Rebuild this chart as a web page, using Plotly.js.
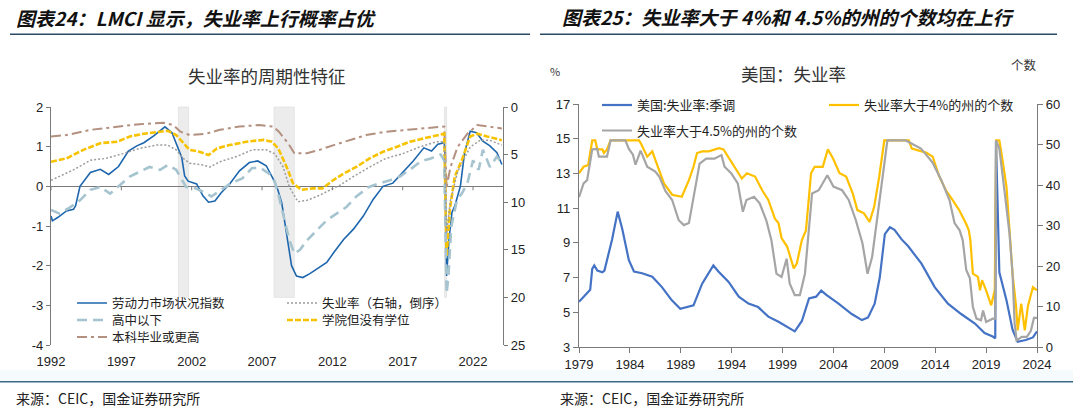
<!DOCTYPE html>
<html><head><meta charset="utf-8">
<script src="https://cdn.plot.ly/plotly-3.0.1.min.js"></script>
<style>
html,body{margin:0;padding:0;background:#fff;}
#wrap{display:flex;width:1080px;height:412px;overflow:hidden;}
#left,#right{width:540px;height:412px;}
</style></head><body>
<div id="wrap"><div id="left"></div><div id="right"></div></div>
<script>
const CJK = '"Noto Sans CJK SC", "Noto Sans", sans-serif';
const NUM = '"Liberation Sans", Arial, sans-serif';

// ---------------- Left chart data ----------------
const leftHeader = '图表24：LMCI 显示，失业率上行概率占优';
const leftTitle = '失业率的周期性特征';
const sourceText = '来源：CEIC，国金证券研究所';
const nameLMCI = '劳动力市场状况指数';
const nameHS = '高中以下';
const nameBA = '本科毕业或更高';
const nameUR = '失业率（右轴，倒序）';
const nameCL = '学院但没有学位';

const lmciYears = [1992.0,1992.1,1992.5,1993.1,1993.6,1993.75,1994.06,1994.8,1995.5,1996.1,1996.8,1997.5,1998.1,1998.6,1999.3,1999.75,2000.1,2000.6,2000.9,2001.3,2001.5,2001.75,2002.35,2002.8,2003.2,2003.65,2004.1,2004.7,2005.4,2006.1,2006.7,2007.3,2007.8,2008.1,2008.4,2008.75,2009.1,2009.45,2009.9,2010.4,2010.9,2011.6,2012.1,2012.8,2013.5,2014.2,2014.9,2015.6,2016.3,2017.0,2017.75,2018.5,2019.05,2019.5,2019.95,2020.0,2020.12,2020.3,2020.5,2020.7,2021.1,2021.4,2021.8,2022.25,2022.7,2023.2,2023.7,2024.05];
const lmciVals  = [-0.75,-0.87,-0.78,-0.62,-0.58,-0.49,0.0,0.35,0.43,0.30,0.50,0.89,1.02,1.10,1.27,1.39,1.50,1.35,1.10,0.72,0.26,0.13,0.06,-0.24,-0.40,-0.37,-0.16,0.06,0.39,0.60,0.64,0.52,0.18,-0.06,-0.41,-1.17,-2.0,-2.26,-2.30,-2.20,-2.09,-1.92,-1.67,-1.34,-1.08,-0.75,-0.33,0.0,0.08,0.35,0.64,0.97,0.89,1.06,1.10,0.90,-2.26,-1.30,-0.66,-0.50,0.0,0.85,1.39,1.35,1.14,1.02,0.85,0.55];

const hsYears = [1992.0,1992.6,1993.3,1994.06,1994.8,1995.5,1996.2,1996.9,1997.6,1998.3,1999.0,1999.75,2000.3,2000.9,2001.3,2001.6,2002.2,2002.8,2003.4,2004.1,2004.8,2005.6,2006.3,2006.9,2007.5,2007.9,2008.2,2008.6,2008.95,2009.3,2009.7,2010.2,2010.9,2011.6,2012.3,2013.0,2013.7,2014.6,2015.4,2016.1,2016.8,2017.5,2018.3,2019.0,2019.7,2019.95,2020.12,2020.25,2020.45,2020.85,2021.2,2021.6,2022.0,2022.4,2022.7,2023.2,2023.7,2024.05];
const hsVals  = [10.8,11.2,10.6,9.8,8.7,8.4,9.1,8.2,7.3,6.8,6.3,6.6,6.1,6.6,7.7,8.4,8.5,8.9,9.4,8.7,8.0,7.5,6.4,6.4,7.0,7.8,9.4,11.9,14.0,15.4,15.0,14.0,12.9,11.9,11.2,10.5,9.4,8.4,8.0,7.7,7.3,6.6,5.7,5.4,5.0,5.6,19.6,17.8,12.6,9.8,9.1,8.0,5.6,6.6,4.5,6.3,5.2,5.9];

const clYears = [1992.0,1993.1,1994.3,1995.5,1996.7,1997.6,1998.6,1999.5,2000.3,2000.9,2001.4,2001.85,2002.55,2003.2,2003.8,2004.7,2005.9,2007.1,2007.7,2008.15,2008.75,2009.2,2009.8,2010.6,2011.3,2012.1,2012.8,2013.7,2014.65,2015.6,2016.55,2017.5,2018.5,2019.4,2019.95,2020.12,2020.35,2020.7,2021.2,2021.8,2022.3,2023.0,2024.05];
const clVals  = [5.75,5.4,4.5,3.8,3.65,3.1,2.8,2.6,2.5,2.95,3.8,4.5,4.7,5.05,4.35,4.0,3.65,3.45,3.65,4.35,6.3,8.0,8.7,8.55,8.55,7.65,7.0,6.3,5.4,4.7,4.2,3.65,3.3,2.95,2.8,15.7,10.8,7.3,5.6,3.1,2.8,3.1,3.5];

const baYears = [1992.0,1993.1,1994.8,1996.7,1998.3,2000.0,2000.7,2001.2,2001.85,2003.05,2004.0,2005.4,2006.8,2007.8,2008.2,2008.85,2009.3,2010.2,2011.1,2012.1,2013.25,2014.4,2015.8,2017.3,2018.7,2019.95,2020.12,2020.4,2020.9,2021.6,2022.3,2023.2,2024.05];
const baVals  = [3.1,2.95,2.4,2.05,1.8,1.65,1.9,2.6,2.95,2.8,2.4,2.05,1.9,2.05,2.6,3.8,4.85,4.85,4.5,4.0,3.45,2.95,2.6,2.4,2.25,2.05,8.4,6.3,4.2,2.8,1.9,2.05,2.25];

const urYears = [1992.0,1992.6,1993.6,1994.8,1995.9,1997.1,1998.3,1999.5,2000.3,2000.9,2001.4,2001.85,2002.8,2003.3,2004.0,2005.2,2006.3,2007.3,2007.9,2008.5,2008.95,2009.55,2010.2,2010.9,2011.6,2012.55,2013.5,2014.65,2015.8,2017.0,2018.2,2019.4,2019.95,2020.12,2020.4,2020.9,2021.8,2022.5,2023.2,2024.05];
const urVals  = [7.7,7.3,6.6,5.6,5.4,4.9,4.35,4.0,4.0,4.5,5.4,5.9,6.1,6.3,5.75,5.2,4.5,4.5,4.9,6.3,8.4,9.95,9.8,9.4,8.9,8.2,7.3,6.3,5.4,4.9,4.2,3.65,3.65,13.3,9.8,6.8,4.2,3.5,3.5,4.0];

const recStart = [2001.05, 2007.85, 2019.97];
const recEnd   = [2001.78, 2009.30, 2020.12];

const leftXTicks = [1992,1997,2002,2007,2012,2017,2022];
const leftXLabels = ['1992','1997','2002','2007','2012','2017','2022'];
const leftYTicks = [-4,-3,-2,-1,0,1,2];
const leftYLabels = ['-4','-3','-2','-1','0','1','2'];
const leftY2Ticks = [0,5,10,15,20,25];
const leftY2Labels = ['0','5','10','15','20','25'];

// ---------------- Right chart data ----------------
const rightHeader = '图表25：失业率大于 4%和 4.5%的州的个数均在上行';
const rightTitle = '美国：失业率';
const nameUS = '美国:失业率:季调';
const name4 = '失业率大于4%的州的个数';
const name45 = '失业率大于4.5%的州的个数';

const usYears = [1979.0,1979.6,1980.1,1980.3,1980.5,1980.8,1981.3,1981.5,1981.75,1982.25,1982.8,1983.25,1983.9,1984.4,1985.2,1986.2,1987.15,1988.1,1988.95,1989.6,1990.25,1991.1,1991.7,1992.2,1992.7,1993.7,1994.7,1995.65,1996.6,1997.6,1998.6,1999.55,2000.2,2000.9,2001.6,2002.3,2002.8,2003.3,2004.5,2005.8,2006.8,2007.4,2008.05,2008.55,2009.05,2009.55,2010.0,2010.7,2011.35,2012.65,2013.95,2015.25,2016.55,2017.9,2018.85,2019.65,2019.9,2019.97,2020.3,2021.0,2021.6,2022.1,2022.9,2023.6,2024.0];
const usVals  = [5.6,6.0,6.3,7.5,7.7,7.4,7.3,7.4,8.0,9.2,10.8,9.8,8.0,7.35,7.25,7.05,6.45,5.7,5.2,5.3,5.4,6.65,7.2,7.7,7.35,6.75,5.9,5.5,5.3,4.75,4.45,4.15,3.9,4.5,5.8,5.9,6.25,6.0,5.5,4.9,4.55,4.7,5.5,7.0,9.5,9.9,9.75,9.2,8.8,7.8,6.45,5.5,4.9,4.35,3.8,3.6,3.5,14.9,7.3,5.7,4.0,3.3,3.4,3.55,3.9];

const s45Years = [1979.0,1979.45,1979.8,1980.1,1980.3,1980.8,1980.95,1981.75,1982.1,1983.55,1983.9,1984.3,1984.55,1985.05,1985.3,1985.7,1986.5,1986.9,1987.5,1988.15,1988.8,1989.3,1989.8,1990.2,1990.85,1991.5,1992.3,1993.0,1993.3,1993.95,1994.6,1995.1,1995.45,1996.2,1996.75,1997.4,1997.9,1998.4,1998.9,1999.4,1999.7,2000.2,2000.7,2001.2,2001.9,2002.55,2003.4,2004.0,2004.85,2005.5,2006.2,2006.85,2007.35,2007.8,2008.5,2009.0,2009.3,2011.1,2011.75,2012.6,2013.1,2013.75,2014.6,2015.4,2015.9,2016.4,2016.7,2017.05,2017.4,2017.7,2018.05,2018.5,2018.7,2019.0,2019.65,2019.9,2019.98,2020.3,2020.8,2021.3,2021.6,2021.8,2022.0,2022.5,2023.0,2023.4,2023.7,2024.0];
const s45Vals  = [37,40.4,41.2,45.3,48.8,48.9,47,47,51,51,48.9,47.5,45,48.5,47,44.5,43.3,42,38.5,36.3,31.3,30.1,30.6,36.3,45.3,46.5,46.5,47.4,44.5,42.9,40.4,33.4,36.3,37.1,35.5,31.3,26.4,18.1,17.3,21.8,15.7,12.8,12.8,18.1,37.9,38.7,42.4,39.6,38.7,36.3,31.3,25.6,18.1,22.2,35.5,44.5,51,51,50.2,49,47.5,45.5,41.2,36.3,30.6,28.8,26.4,19,17,9.9,7.0,6.6,9,6.2,7.0,7.0,51,49,38.7,28,18,5.8,1.6,2.5,2.5,4,7.2,7.2];

const s4Years = [1979.0,1979.45,1979.9,1980.3,1980.6,1980.8,1981.3,1981.45,1981.75,1982.1,1984.9,1985.1,1985.7,1986.2,1986.5,1987.35,1988.15,1989.1,1989.8,1990.25,1990.6,1991.1,1991.75,1992.75,1993.2,1994.0,1994.7,1995.0,1995.5,1996.3,1997.0,1997.6,1998.25,1998.6,1998.9,1999.45,2000.1,2000.4,2000.9,2001.3,2001.8,2002.15,2002.95,2003.45,2003.95,2004.6,2005.25,2005.9,2006.35,2007.0,2007.55,2008.0,2008.5,2009.0,2011.4,2011.7,2013.1,2013.75,2014.4,2015.05,2015.7,2016.35,2017.0,2017.3,2017.45,2017.7,2018.2,2018.4,2018.6,2019.0,2019.5,2019.85,2019.99,2020.3,2020.5,2021.0,2021.3,2021.6,2021.95,2022.1,2022.45,2022.8,2023.1,2023.6,2024.0];
const s4Vals  = [42.9,44.5,44.9,51,51,48.8,48.8,47.9,48.8,51,51,50.2,47,48.3,46.2,40.4,37.6,37.1,41.2,44.5,47.9,48.3,48.3,49.1,48.8,45.7,42.9,41.6,42.9,42.1,38.7,36.3,31.7,30.6,26.9,24.8,19.4,20.6,26.4,28.8,42.9,44.5,44.5,48.8,46.6,42.9,42.1,37.9,33.8,33,30.9,34.6,42.1,51,51,49,48,47,42.1,38.7,36.3,33.8,30.6,28.8,26.4,18.1,17.3,14,16.5,14,10.3,14,51,51,48,39.6,28.8,18,9.9,4.1,10.7,4.1,10,14.8,14.0];

const rightXTicks = [1979,1984,1989,1994,1999,2004,2009,2014,2019,2024];
const rightXLabels = ['1979','1984','1989','1994','1999','2004','2009','2014','2019','2024'];
const rightYTicks = [3,5,7,9,11,13,15,17];
const rightYLabels = ['3','5','7','9','11','13','15','17'];
const rightY2Ticks = [0,10,20,30,40,50,60];
const rightY2Labels = ['0','10','20','30','40','50','60'];

// ---------------- helpers ----------------
function geo(l, t, w, h){ return {x: p => (p - l) / w, y: p => (t + h - p) / h}; }
const AX = '#7a7a7a';
const tickFont = {family: NUM, size: 13, color: '#222'};
function headerLines(G, x0, x1){
  return [
    {type:'line', xref:'paper', yref:'paper', x0:G.x(x0), x1:G.x(x1), y0:G.y(34.3), y1:G.y(34.3), line:{color:'#2b4a66', width:1.5}, layer:'above'},
    {type:'rect', xref:'paper', yref:'paper', x0:G.x(x0-10), x1:G.x(x1+16), y0:G.y(381), y1:G.y(370), fillcolor:'#f5fafc', line:{width:0}, layer:'below'},
    {type:'line', xref:'paper', yref:'paper', x0:G.x(x0-10), x1:G.x(x1+16), y0:G.y(381.7), y1:G.y(381.7), line:{color:'#3a6c8a', width:1.5}, layer:'above'}
  ];
}
function leg(G, x, yc, size){
  const h = Math.max(size * 1.3, 16) + 3;
  return {x: G.x(x), y: G.y(yc - h/2 - 5), xanchor:'left', yanchor:'top', bgcolor:'rgba(0,0,0,0)', borderwidth:0,
          itemwidth:30, font:{family:CJK, size:size, color:'#222'}};
}

// ---------------- Left figure ----------------
const GL = geo(51, 107, 452, 238);
const leftTraces = [
  {type:'scatter', mode:'lines', name:nameLMCI, x:lmciYears, y:lmciVals, xaxis:'x', yaxis:'y', legend:'legend',
   line:{color:'#1d66ad', width:1.6}},
  {type:'scatter', mode:'lines', name:nameBA, x:baYears, y:baVals, xaxis:'x', yaxis:'y2', legend:'legend3',
   line:{color:'#b3907f', width:2, dash:'10px,4px,3px,4px'}},
  {type:'scatter', mode:'lines', name:nameCL, x:clYears, y:clVals, xaxis:'x', yaxis:'y2', legend:'legend5',
   line:{color:'#f7c300', width:2.6, dash:'6px,2px'}},
  {type:'scatter', mode:'lines', name:nameHS, x:hsYears, y:hsVals, xaxis:'x', yaxis:'y2', legend:'legend2',
   line:{color:'#a6c4cf', width:2.6, dash:'10px,6px'}},
  {type:'scatter', mode:'lines', name:nameUR, x:urYears, y:urVals, xaxis:'x', yaxis:'y2', legend:'legend4',
   line:{color:'#9c9c9c', width:1.5, dash:'2px,2px'}}
];
const leftShapes = recStart.map((s, i) => ({
  type:'rect', xref:'x', yref:'paper', x0:s, x1:recEnd[i], y0:0.2, y1:1,
  fillcolor:'#ececec', line:{color:'#dcdcdc', width:0.6}, layer:'below'
})).concat(leftXTicks.map(t => ({
  type:'line', xref:'x', yref:'y', x0:t, x1:t, y0:0, y1:-0.1, line:{color:AX, width:1}, layer:'above'
}))).concat(headerLines(GL, 10, 530));
const leftLayout = {
  width:540, height:412,
  margin:{l:51, r:37, t:107, b:67, pad:0},
  paper_bgcolor:'#fff', plot_bgcolor:'#fff',
  showlegend:true, hovermode:false,
  xaxis:{range:[1992, 2024.13], tickvals:leftXTicks, ticktext:leftXLabels, showline:false, showgrid:false, zeroline:false,
         ticks:'outside', ticklen:4, tickcolor:'rgba(0,0,0,0)', tickfont:tickFont},
  yaxis:{range:[-4, 2], tickvals:leftYTicks, ticktext:leftYLabels, showline:true, linecolor:AX, linewidth:1.2,
         ticks:'outside', ticklen:4, tickcolor:AX, showgrid:false, zeroline:true, zerolinecolor:AX, zerolinewidth:1.2, tickfont:tickFont},
  yaxis2:{overlaying:'y', side:'right', range:[25, 0], tickvals:leftY2Ticks, ticktext:leftY2Labels, showline:true, linecolor:AX, linewidth:1.2,
          ticks:'outside', ticklen:4, tickcolor:AX, showgrid:false, zeroline:false, tickfont:tickFont},
  legend: leg(GL, 72, 303, 12.5),
  legend2: leg(GL, 72, 320, 12.5),
  legend3: leg(GL, 72, 337, 12.5),
  legend4: leg(GL, 282, 303, 12.5),
  legend5: leg(GL, 282, 320, 12.5),
  shapes: leftShapes,
  annotations:[
    {xref:'paper', yref:'paper', x:GL.x(14), y:GL.y(17), xanchor:'left', yanchor:'middle', showarrow:false, text:leftHeader,
     font:{family:CJK, size:19, weight:700, style:'italic', color:'#111'}},
    {xref:'paper', yref:'paper', x:GL.x(267), y:GL.y(75), xanchor:'center', yanchor:'middle', showarrow:false, text:leftTitle,
     font:{family:CJK, size:17.5, color:'#333'}},
    {xref:'paper', yref:'paper', x:GL.x(14), y:GL.y(398), xanchor:'left', yanchor:'middle', showarrow:false, text:sourceText,
     font:{family:CJK, size:14, color:'#222'}}
  ]
};

// ---------------- Right figure ----------------
const GR = geo(39, 104, 458, 243);
const rightTraces = [
  {type:'scatter', mode:'lines', name:name4, x:s4Years, y:s4Vals, xaxis:'x', yaxis:'y2', legend:'legend2',
   line:{color:'#ffc000', width:2.2}},
  {type:'scatter', mode:'lines', name:name45, x:s45Years, y:s45Vals, xaxis:'x', yaxis:'y2', legend:'legend3',
   line:{color:'#a5a5a5', width:2.2}},
  {type:'scatter', mode:'lines', name:nameUS, x:usYears, y:usVals, xaxis:'x', yaxis:'y', legend:'legend',
   line:{color:'#4472c4', width:2.2}}
];
const rightLayout = {
  width:540, height:412,
  margin:{l:39, r:43, t:104, b:65, pad:0},
  paper_bgcolor:'#fff', plot_bgcolor:'#fff',
  showlegend:true, hovermode:false,
  xaxis:{range:[1979, 2024], tickvals:rightXTicks, ticktext:rightXLabels, showline:true, linecolor:AX, linewidth:1.2,
         ticks:'outside', ticklen:5, tickcolor:AX, showgrid:false, zeroline:false, tickfont:tickFont},
  yaxis:{range:[3, 17], tickvals:rightYTicks, ticktext:rightYLabels, showline:true, linecolor:AX, linewidth:1.2,
         ticks:'outside', ticklen:5, tickcolor:AX, showgrid:false, zeroline:false, tickfont:tickFont},
  yaxis2:{overlaying:'y', side:'right', range:[0, 60], tickvals:rightY2Ticks, ticktext:rightY2Labels, showline:true, linecolor:AX, linewidth:1.2,
          ticks:'outside', ticklen:5, tickcolor:AX, showgrid:false, zeroline:false, tickfont:tickFont},
  legend: leg(GR, 57, 105, 13),
  legend2: leg(GR, 284, 105, 13),
  legend3: leg(GR, 57, 130.5, 13),
  shapes: headerLines(GR, 0, 517),
  annotations:[
    {xref:'paper', yref:'paper', x:GR.x(20), y:GR.y(17), xanchor:'left', yanchor:'middle', showarrow:false, text:rightHeader,
     font:{family:CJK, size:19, weight:700, style:'italic', color:'#111'}},
    {xref:'paper', yref:'paper', x:GR.x(253), y:GR.y(73), xanchor:'center', yanchor:'middle', showarrow:false, text:rightTitle,
     font:{family:CJK, size:17.5, color:'#333'}},
    {xref:'paper', yref:'paper', x:GR.x(15), y:GR.y(71), xanchor:'center', yanchor:'middle', showarrow:false, text:'%',
     font:{family:CJK, size:11, color:'#333'}},
    {xref:'paper', yref:'paper', x:GR.x(484), y:GR.y(65), xanchor:'center', yanchor:'middle', showarrow:false, text:'个数',
     font:{family:CJK, size:12.5, color:'#333'}},
    {xref:'paper', yref:'paper', x:GR.x(18), y:GR.y(398), xanchor:'left', yanchor:'middle', showarrow:false, text:sourceText,
     font:{family:CJK, size:14, color:'#222'}}
  ]
};

const cfg = {displayModeBar:false, staticPlot:true, responsive:false};
Plotly.newPlot('left', leftTraces, leftLayout, cfg);
Plotly.newPlot('right', rightTraces, rightLayout, cfg);
</script></body></html>
